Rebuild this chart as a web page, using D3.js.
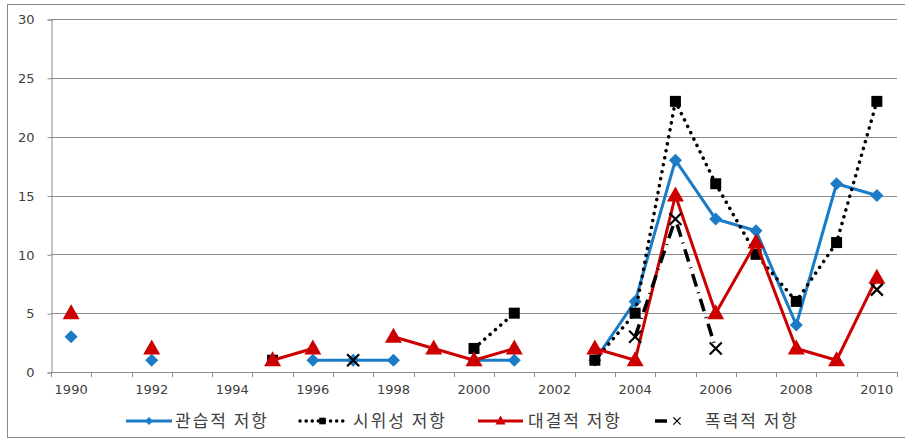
<!DOCTYPE html>
<html>
<head>
<meta charset="utf-8">
<script src="https://cdn.jsdelivr.net/npm/d3@7"></script>
<style>
  html, body { margin: 0; padding: 0; background: #fff; }
  svg { display: block; }
</style>
</head>
<body>
<svg id="chart" width="905" height="439"></svg>
<script>
// Years on the category axis
const years = d3.range(1990, 2011);
const yTicks = [0, 5, 10, 15, 20, 25, 30];
const xTickLabels = [1990, 1992, 1994, 1996, 1998, 2000, 2002, 2004, 2006, 2008, 2010];

// Annual counts per type of resistance (null = no record that year)
const customary = [3, null, 1, null, null, null, 1, 1, 1, null, 1, 1, null, 1, 6, 18, 13, 12, 4, 16, 15];
const protest   = [null, null, null, null, null, 1, null, null, null, null, 2, 5, null, 1, 5, 23, 16, 10, 6, 11, 23];
const confront  = [5, null, 2, null, null, 1, 2, null, 3, 2, 1, 2, null, 2, 1, 15, 5, 11, 2, 1, 8];
const violent   = [null, null, null, null, null, null, null, 1, null, null, null, null, null, null, 3, 13, 2, null, null, null, 7];

const seriesNames = ["관습적 저항", "시위성 저항", "대결적 저항", "폭력적 저항"];

const svg = d3.select("#chart");
const W = 905, H = 439;

// Outer frame
svg.append("rect").attr("x", 7.5).attr("y", 4.5).attr("width", W + 10).attr("height", H - 6)
  .attr("fill", "#fff").attr("stroke", "#888").attr("stroke-width", 1);

const plotLeft = 51, plotRight = 897, plotTop = 19, plotBottom = 372;

const x = d3.scaleBand().domain(years).range([plotLeft, plotRight]).paddingInner(0).paddingOuter(0);
const y = d3.scaleLinear().domain([0, 30]).range([plotBottom, plotTop]);
const cx = yr => x(yr) + x.bandwidth() / 2;

const font = "'DejaVu Sans', Verdana, sans-serif";
const textColor = "#404040";
const axisColor = "#8c8c8c";

// Horizontal gridlines
svg.append("g").selectAll("line").data(yTicks.filter(t => t > 0)).join("line")
  .attr("x1", plotLeft).attr("x2", plotRight)
  .attr("y1", d => Math.round(y(d)) + 0.5).attr("y2", d => Math.round(y(d)) + 0.5)
  .attr("stroke", axisColor).attr("stroke-width", 1);

// Y axis
const yAxis = d3.axisLeft(y).tickValues(yTicks).tickSize(4).tickPadding(13);
const gy = svg.append("g").attr("transform", `translate(${plotLeft + 0.5},0.5)`).call(yAxis);
gy.select(".domain").attr("stroke", axisColor);
gy.selectAll(".tick line").attr("stroke", axisColor);
gy.selectAll(".tick text").attr("font-family", font).attr("font-size", 13).attr("fill", textColor);

// X axis: ticks sit between categories, labels on every other year
const boundaries = d3.range(years.length + 1).map(i => plotLeft + i * x.bandwidth());
const gx = svg.append("g");
gx.append("line").attr("x1", plotLeft).attr("x2", plotRight)
  .attr("y1", plotBottom + 0.5).attr("y2", plotBottom + 0.5).attr("stroke", axisColor);
gx.selectAll("line.tk").data(boundaries).join("line").attr("class", "tk")
  .attr("x1", d => Math.round(d) + 0.5).attr("x2", d => Math.round(d) + 0.5)
  .attr("y1", plotBottom).attr("y2", plotBottom + 5).attr("stroke", axisColor);
gx.selectAll("text").data(xTickLabels).join("text")
  .attr("x", d => cx(d)).attr("y", 394)
  .attr("text-anchor", "middle")
  .attr("font-family", font).attr("font-size", 13).attr("fill", textColor)
  .text(d => d);

// Series styling
const blue = "#1a7bc6", red = "#cc0000", black = "#000";
const series = [
  { name: seriesNames[0], values: customary, color: blue, width: 3, dash: null, marker: "diamond" },
  { name: seriesNames[1], values: protest, color: black, width: 3.5, dash: "0.1 7", cap: "round", marker: "square" },
  { name: seriesNames[2], values: confront, color: red, width: 3, dash: null, marker: "triangle" },
  { name: seriesNames[3], values: violent, color: black, width: 3.5, dash: "13 6 1 6", cap: "butt", marker: "cross" }
];

const symbolPath = {
  diamond: "M0,-6.5L6.5,0L0,6.5L-6.5,0Z",
  square: d3.symbol().type(d3.symbolSquare).size(121)(),
  triangle: "M0,-9L8.5,6L-8.5,6Z"
};

function drawMarker(g, type, px, py, color, scale = 1) {
  if (type === "cross") {
    const s = 6 * scale;
    g.append("path")
      .attr("d", `M${px - s},${py - s}L${px + s},${py + s}M${px - s},${py + s}L${px + s},${py - s}`)
      .attr("stroke", color).attr("stroke-width", 2.2 * scale).attr("fill", "none");
  } else {
    g.append("path").attr("d", symbolPath[type])
      .attr("transform", `translate(${px},${py}) scale(${scale})`)
      .attr("fill", color);
  }
}

const line = d3.line()
  .defined(d => d.v != null)
  .x(d => cx(d.year))
  .y(d => y(d.v));

series.forEach(s => {
  const pts = years.map((yr, i) => ({ year: yr, v: s.values[i] }));
  const g = svg.append("g");
  g.append("path").datum(pts)
    .attr("d", line)
    .attr("fill", "none")
    .attr("stroke", s.color)
    .attr("stroke-width", s.width)
    .attr("stroke-linejoin", "round")
    .attr("stroke-linecap", s.cap || "butt")
    .attr("stroke-dasharray", s.dash);
  pts.filter(d => d.v != null).forEach(d => drawMarker(g, s.marker, cx(d.year), y(d.v), s.color));
});

// Legend
const legendY = 421;
const lg = svg.append("g");
const legendItems = [
  { s: series[0], x0: 126, x1: 172, tx: 175 },
  { s: series[1], x0: 300, x1: 345, tx: 353 },
  { s: series[2], x0: 478, x1: 523, tx: 528 },
  { s: series[3], x0: 655, x1: 667, tx: 705 }
];
legendItems.forEach(it => {
  const s = it.s;
  if (s.marker === "cross") {
    lg.append("line").attr("x1", it.x0).attr("x2", it.x1).attr("y1", legendY).attr("y2", legendY)
      .attr("stroke", s.color).attr("stroke-width", s.width);
    drawMarker(lg, "cross", 677, legendY, s.color, 0.6);
  } else {
    lg.append("line").attr("x1", it.x0).attr("x2", it.x1).attr("y1", legendY).attr("y2", legendY)
      .attr("stroke", s.color).attr("stroke-width", s.marker === "square" ? 3.5 : 3)
      .attr("stroke-linecap", s.cap || "butt")
      .attr("stroke-dasharray", s.marker === "square" ? "0.1 6" : null);
    drawMarker(lg, s.marker, (it.x0 + it.x1) / 2, legendY, s.color, 0.6);
  }
  lg.append("text").attr("x", it.tx).attr("y", legendY + 6)
    .attr("font-family", "'Noto Sans CJK KR', sans-serif").attr("font-size", 17)
    .attr("letter-spacing", 2)
    .attr("fill", textColor).text(s.name);
});
</script>
</body>
</html>
